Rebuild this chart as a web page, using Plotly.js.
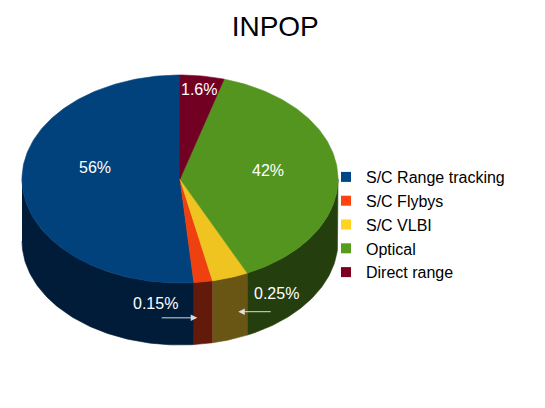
<!DOCTYPE html>
<html><head><meta charset="utf-8">
<script src="https://cdn.plot.ly/plotly-3.0.1.min.js"></script>
<style>html,body{margin:0;padding:0;background:#fff;}</style>
</head><body><div id="chart" style="width:545px;height:408px;"></div>
<script>
// ---- data ----
const categories = ["S/C Range tracking", "S/C Flybys", "S/C VLBI", "Optical", "Direct range"];
// share of the circle each slice occupies as drawn (percent)
const sliceShares = [51.4, 1.9, 3.7, 38.5, 4.5];
// percentage labels printed on the chart
const pctLabels = ["56%", "0.15%", "0.25%", "42%", "1.6%"];

// ---- style ----
const topColors  = ["#02427c", "#ef400f", "#efc420", "#54951f", "#720023"];
const sideColors = ["#001c38", "#621a0a", "#6a5614", "#243f0d", "#3a0012"];
const legendColors = ["#004586", "#ff420e", "#ffd320", "#579d1c", "#7e0021"];
const geo = {cx: 180, cy: 179, rx: 158, ry: 104, depth: 62};
// label placement: inside labels by radial factor, outside labels with arrow to wall
const labelStyle = [
  {type: "in", r: 0.54, dy: -14},
  {type: "out", tipDx: -6, tipDepth: 0.58, textDx: -41.5, textDy: -14.5, tail: -37},
  {type: "out", tipDx: 8, tipDepth: 0.55, textDx: 38.5, textDy: -18, tail: 34},
  {type: "in", r: 0.56, dy: -4},
  {type: "in", r: 0.87, dy: 0}
];

const total = sliceShares.reduce((a, b) => a + b, 0);
const rad = d => d * Math.PI / 180;
// angle measured counter-clockwise from 12 o'clock
const px = (phi, f) => geo.cx - geo.rx * f * Math.sin(rad(phi));
const py = (phi, f) => geo.cy - geo.ry * f * Math.cos(rad(phi));

const traces = [];
const annotations = [];
let start = 0;
const bounds = sliceShares.map(v => { const a = start; start += v / total * 360; return [a, start]; });

// walls (front half only: 90..270)
bounds.forEach(([a, b], i) => {
  const s = Math.max(a, 90), e = Math.min(b, 270);
  if (e <= s) return;
  const xs = [], ys = [];
  const n = Math.max(4, Math.ceil((e - s) / 1));
  for (let k = 0; k <= n; k++) { const p = s + (e - s) * k / n; xs.push(px(p, 1)); ys.push(py(p, 1)); }
  for (let k = n; k >= 0; k--) { const p = s + (e - s) * k / n; xs.push(px(p, 1)); ys.push(py(p, 1) + geo.depth); }
  traces.push({type: "scatter", mode: "lines", x: xs, y: ys, fill: "toself", fillcolor: sideColors[i],
    line: {color: sideColors[i], width: 0.6}, hoverinfo: "skip", showlegend: false});
});
// top faces
bounds.forEach(([a, b], i) => {
  const xs = [geo.cx], ys = [geo.cy];
  const n = Math.max(4, Math.ceil((b - a) / 1));
  for (let k = 0; k <= n; k++) { const p = a + (b - a) * k / n; xs.push(px(p, 1)); ys.push(py(p, 1)); }
  xs.push(geo.cx); ys.push(geo.cy);
  traces.push({type: "scatter", mode: "lines", x: xs, y: ys, fill: "toself", fillcolor: topColors[i],
    line: {color: topColors[i], width: 0.6}, name: categories[i], hoverinfo: "name", showlegend: false});
});
// legend entries
categories.forEach((c, i) => {
  traces.push({type: "scatter", mode: "markers", x: [null], y: [null], name: c,
    marker: {symbol: "square", size: 10, color: legendColors[i]}, showlegend: true});
});
// labels
bounds.forEach(([a, b], i) => {
  const st = labelStyle[i], mid = (a + b) / 2;
  const font = {family: "Liberation Sans, Arial, sans-serif", size: 16, color: "#ffffff"};
  if (st.type === "in") {
    annotations.push({x: px(mid, st.r), y: py(mid, st.r), xref: "x", yref: "y", text: pctLabels[i],
      showarrow: false, yshift: -st.dy, font});
  } else {
    const tx = px(mid, 1) + st.tipDx, ty = py(mid, 1) + geo.depth * st.tipDepth;
    annotations.push({x: tx, y: ty, xref: "x", yref: "y", text: "", showarrow: true,
      ax: st.tail, ay: 0, arrowhead: 2, arrowsize: 1.3, arrowwidth: 1, arrowcolor: "rgba(235,240,245,0.9)", standoff: 0});
    annotations.push({x: tx + st.textDx, y: ty + st.textDy, xref: "x", yref: "y", text: pctLabels[i],
      showarrow: false, font});
  }
});

const layout = {
  width: 545, height: 408, autosize: false,
  margin: {l: 0, r: 0, t: 0, b: 0},
  paper_bgcolor: "#ffffff", plot_bgcolor: "#ffffff",
  title: {text: "INPOP", font: {family: "Liberation Sans, Arial, sans-serif", size: 28, color: "#000"},
    x: 0.505, xanchor: "center", y: 1 - 26 / 408, yanchor: "middle", yref: "container"},
  xaxis: {range: [0, 545], visible: false, fixedrange: true},
  yaxis: {range: [408, 0], visible: false, fixedrange: true},
  showlegend: true,
  legend: {x: 326 / 545, xanchor: "left", y: 1 - 160 / 408, yanchor: "top", bgcolor: "rgba(0,0,0,0)",
    font: {family: "Liberation Sans, Arial, sans-serif", size: 16, color: "#000"}, traceorder: "normal"},
  annotations
};
Plotly.newPlot("chart", traces, layout, {staticPlot: true, displayModeBar: false});
</script></body></html>
